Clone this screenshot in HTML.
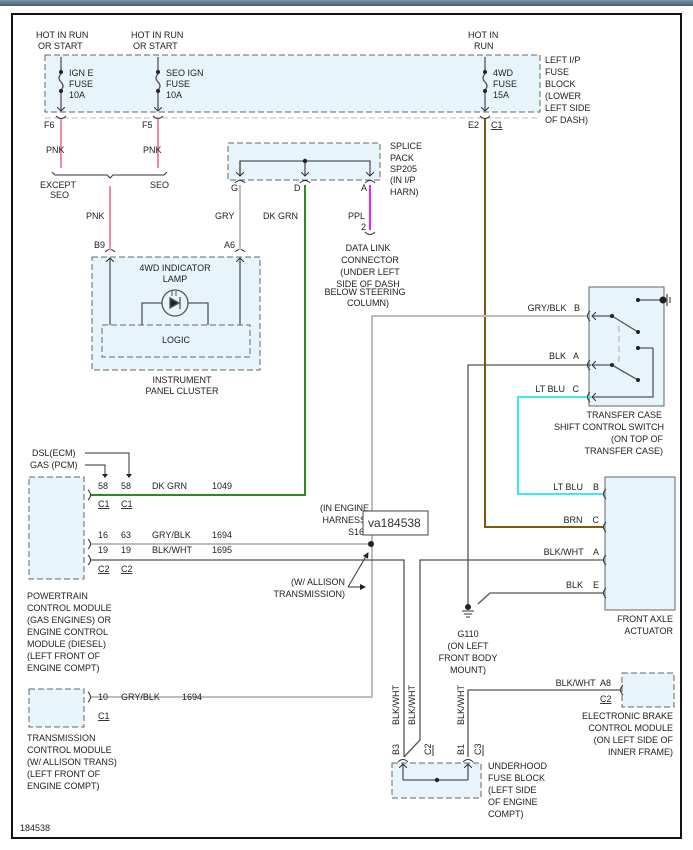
<!DOCTYPE html>
<html><head><meta charset="utf-8"><style>
body{margin:0;background:#fff;}
svg{display:block;font-family:"Liberation Sans",sans-serif;font-size:9px;}
text{fill:#222;white-space:pre;}
</style></head><body>
<svg width="693" height="850" viewBox="0 0 693 850" xmlns="http://www.w3.org/2000/svg">
<defs>
<linearGradient id="tb" x1="0" y1="0" x2="0" y2="1"><stop offset="0" stop-color="#7f93ab"/><stop offset="1" stop-color="#4a5d78"/></linearGradient>
<marker id="ar" markerWidth="8" markerHeight="8" refX="4" refY="4" orient="auto" markerUnits="userSpaceOnUse"><path d="M0,0 L4,4 L0,8" fill="none" stroke="#333" stroke-width="1"/></marker>
<marker id="fa" markerWidth="6" markerHeight="6" refX="5" refY="3" orient="auto" markerUnits="userSpaceOnUse"><path d="M0,0 L6,3 L0,6z" fill="#222"/></marker>
</defs>
<rect x="0" y="0" width="693" height="6" fill="url(#tb)"/>
<rect x="12" y="14" width="669" height="824" fill="#fff" stroke="#111" stroke-width="2"/>

<g fill="#e8f4fc" stroke="#666" stroke-width="1" stroke-dasharray="6,3">
<rect x="45" y="55" width="495" height="57"/>
<rect x="228" y="143" width="152" height="37"/>
<rect x="92" y="257" width="168" height="113"/>
<rect x="102" y="325" width="148" height="32"/>
<rect x="29" y="477" width="55" height="102"/>
<rect x="29" y="689" width="55" height="38"/>
<rect x="622" y="673" width="52" height="34"/>
<rect x="392" y="763" width="89" height="35"/>
</g>
<line x1="45" y1="118" x2="540" y2="118" stroke="#bbb" stroke-dasharray="6,3"/>
<rect x="589" y="287" width="75" height="119" fill="#e8f4fc" stroke="#666"/>
<rect x="605" y="477" width="70" height="133" fill="#e8f4fc" stroke="#666"/>

<g stroke="#555" stroke-width="1.3" fill="none">
<path d="M61,57 V72 M61,92 V111" marker-end="url(#ar)"/>
<path d="M61,74 q-4,4 0,8 q4,4 0,8"/>
<path d="M158,57 V72 M158,92 V111" marker-end="url(#ar)"/>
<path d="M158,74 q-4,4 0,8 q4,4 0,8"/>
<path d="M485,57 V72 M485,92 V111" marker-end="url(#ar)"/>
<path d="M485,74 q-4,4 0,8 q4,4 0,8"/>
</g>
<g fill="#222"><circle cx="61" cy="72" r="2"/><circle cx="61" cy="91" r="2"/><circle cx="158" cy="72" r="2"/><circle cx="158" cy="91" r="2"/><circle cx="485" cy="72" r="2"/><circle cx="485" cy="91" r="2"/></g>
<g stroke="#333" fill="none">
<path d="M56,116 q5,5 10,0 M153,116 q5,5 10,0 M480,116 q5,5 10,0"/>
<path d="M105,252 q5,-5 10,0 M235,252 q5,-5 10,0 M365,232 q5,5 10,0"/>
<path d="M235,183 q5,-5 10,0 M300,183 q5,-5 10,0 M365,183 q5,-5 10,0"/>
<path d="M52,172 l3,3 H107 l3,3 l3,-3 H164 l3,-3"/>
</g>
<text x="36" y="38">HOT IN RUN</text><text x="38" y="49">OR START</text>
<text x="131" y="38">HOT IN RUN</text><text x="133" y="49">OR START</text>
<text x="468" y="38">HOT IN</text><text x="474" y="49">RUN</text>
<text x="69" y="76">IGN E</text><text x="69" y="87">FUSE</text><text x="69" y="98">10A</text>
<text x="166" y="76">SEO IGN</text><text x="166" y="87">FUSE</text><text x="166" y="98">10A</text>
<text x="493" y="76">4WD</text><text x="493" y="87">FUSE</text><text x="493" y="98">15A</text>
<text x="545" y="63">LEFT I/P</text><text x="545" y="75">FUSE</text><text x="545" y="87">BLOCK</text><text x="545" y="99">(LOWER</text><text x="545" y="111">LEFT SIDE</text><text x="545" y="123">OF DASH)</text>
<text x="44" y="128">F6</text><text x="142" y="128">F5</text><text x="468" y="128">E2</text><text x="491" y="128" text-decoration="underline">C1</text>

<g fill="none" stroke-width="2">
<path d="M61,119 V168 M158,119 V168 M110,186 V250" stroke="#f38ba0"/>
<path d="M240,185 V250" stroke="#bdbdbd"/>
<path d="M305,185 V495 H90" stroke="#2a8a2a"/>
<path d="M370,185 V230" stroke="#f020f0"/>
<path d="M485,119 V527 H603" stroke="#7a5a10"/>
<path d="M603,494 H518 V397 H591" stroke="#40e8f0"/>
<path d="M589,316 H372 V697 H90 M372,544 H90" stroke="#bdbdbd"/>
</g>
<g fill="none" stroke="#555" stroke-width="1.3">
<path d="M591,365 H468 V604"/>
<path d="M603,593 H490 L478,604"/>
<path d="M603,560 H420 V740 L404,757"/>
<path d="M90,560 H404 V757"/>
<path d="M620,690 H468 V757"/>
</g>
<text x="46" y="153">PNK</text><text x="143" y="153">PNK</text>
<text x="40" y="188">EXCEPT</text><text x="50" y="198">SEO</text><text x="150" y="188">SEO</text>
<text x="86" y="219">PNK</text><text x="215" y="219">GRY</text><text x="263" y="219">DK GRN</text>
<text x="348" y="219">PPL</text><text x="361" y="230">2</text>
<text x="94" y="248">B9</text><text x="224" y="248">A6</text>

<g stroke="#555" stroke-width="1.3" fill="none">
<path d="M240,176 V161 H370 V176" marker-end="url(#ar)"/>
<path d="M240,161 V176" marker-end="url(#ar)"/>
<path d="M305,161 V176" marker-end="url(#ar)"/>
</g>
<circle cx="305" cy="161" r="2.2" fill="#222"/>
<text x="231" y="191">G</text><text x="294" y="191">D</text><text x="361" y="191">A</text>
<text x="390" y="149">SPLICE</text><text x="390" y="161">PACK</text><text x="390" y="172">SP205</text><text x="390" y="183">(IN I/P</text><text x="390" y="195">HARN)</text>
<g text-anchor="middle"><text x="368" y="251">DATA LINK</text><text x="370" y="263">CONNECTOR</text><text x="370" y="275">(UNDER LEFT</text><text x="368" y="287">SIDE OF DASH</text><text x="365" y="295">BELOW STEERING</text><text x="368" y="306">COLUMN)</text></g>

<g stroke="#555" stroke-width="1.3" fill="none">
<path d="M110,325 V258" marker-end="url(#ar)"/><path d="M240,325 V258" marker-end="url(#ar)"/>
<path d="M142,325 V303 H208 V325"/>
<circle cx="175" cy="303" r="13" fill="#e8f4fc"/>
<path d="M170,298 L179,303 L170,308z" fill="#222"/><line x1="180" y1="297" x2="180" y2="309"/>
<path d="M172,296 V291 M176,296 V291" stroke-width="1"/>
</g>
<g text-anchor="middle"><text x="175" y="271">4WD INDICATOR</text><text x="175" y="282">LAMP</text><text x="176" y="343">LOGIC</text><text x="182" y="383">INSTRUMENT</text><text x="182" y="394">PANEL CLUSTER</text></g>

<g stroke="#555" stroke-width="1.3" fill="none">
<path d="M612,316 H592" marker-end="url(#ar)"/>
<path d="M612,365 H592" marker-end="url(#ar)"/>
<path d="M653,348 H638 M653,348 V397 H592" marker-end="url(#ar)"/>
<path d="M612,316 L638,332 M612,365 L638,380 M638,300 H663"/>
<path d="M619,326 V362" stroke="#bbb" stroke-dasharray="6,4"/>
<path d="M667,294 V306 M670,297 V303"/>
</g>
<g fill="#222"><circle cx="612" cy="316" r="2"/><circle cx="638" cy="332" r="2"/><circle cx="612" cy="365" r="2"/><circle cx="638" cy="380" r="2"/><circle cx="638" cy="300" r="2"/><circle cx="638" cy="348" r="2"/><circle cx="663" cy="300" r="3.5"/></g>
<g stroke="#333" fill="none"><path d="M590,311 q-5,5 0,10 M590,360 q-5,5 0,10 M590,392 q-5,5 0,10"/>
<path d="M606,489 q-5,5 0,10 M606,522 q-5,5 0,10 M606,555 q-5,5 0,10 M606,588 q-5,5 0,10 M623,685 q-5,5 0,10"/>
<path d="M88,490 q5,5 0,10 M88,539 q5,5 0,10 M88,555 q5,5 0,10 M88,692 q5,5 0,10"/>
<path d="M398,762 q5,-5 10,0 M463,762 q5,-5 10,0"/></g>
<g text-anchor="end"><text x="580" y="311">GRY/BLK   B</text><text x="579" y="359">BLK   A</text><text x="579" y="392">LT BLU   C</text>
<text x="662" y="418">TRANSFER CASE</text><text x="664" y="430">SHIFT CONTROL SWITCH</text><text x="663" y="442">(ON TOP OF</text><text x="663" y="454">TRANSFER CASE)</text>
<text x="599" y="490">LT BLU    B</text><text x="599" y="523">BRN    C</text><text x="599" y="555">BLK/WHT    A</text><text x="599" y="588">BLK    E</text>
<text x="673" y="622">FRONT AXLE</text><text x="673" y="634">ACTUATOR</text>
<text x="611" y="686">BLK/WHT  A8</text>
<text x="673" y="719">ELECTRONIC BRAKE</text><text x="673" y="731">CONTROL MODULE</text><text x="673" y="743">(ON LEFT SIDE OF</text><text x="673" y="755">INNER FRAME)</text>
<text x="369" y="511">(IN ENGINE</text><text x="369" y="523">HARNESS)</text><text x="369" y="535">S165</text>
<text x="345" y="585">(W/ ALLISON</text><text x="345" y="597">TRANSMISSION)</text></g>
<text x="600" y="702" text-decoration="underline">C2</text>

<circle cx="468" cy="607" r="3" fill="#222"/>
<g stroke="#333"><line x1="462" y1="611" x2="474" y2="611"/><line x1="464" y1="614" x2="472" y2="614"/><line x1="466" y1="617" x2="470" y2="617"/></g>
<g text-anchor="middle"><text x="468" y="637">G110</text><text x="468" y="649">(ON LEFT</text><text x="468" y="661">FRONT BODY</text><text x="468" y="673">MOUNT)</text></g>

<circle cx="371" cy="544" r="3" fill="#222"/>
<rect x="363" y="511" width="65" height="24" fill="#fff" stroke="#444"/>
<text x="368" y="527" font-size="12" style="fill:#333">va184538</text>
<path d="M348,587 H365" stroke="#333" fill="none" marker-end="url(#fa)"/>
<path d="M348,587 L368,553" stroke="#333" fill="none" marker-end="url(#fa)"/>

<text x="32" y="456">DSL(ECM)</text><text x="30" y="468">GAS (PCM)</text>
<path d="M85,453 H129 V474 M85,465 H105 V474" stroke="#333" fill="none"/>
<path d="M102,474 h6 l-3,4z M126,474 h6 l-3,4z" fill="#222"/>
<text x="98" y="489">58</text><text x="121" y="489">58</text><text x="152" y="489">DK GRN</text><text x="212" y="489">1049</text>
<text x="98" y="507" text-decoration="underline">C1</text><text x="121" y="507" text-decoration="underline">C1</text>
<text x="98" y="538">16</text><text x="121" y="538">63</text><text x="152" y="538">GRY/BLK</text><text x="212" y="538">1694</text>
<text x="98" y="553">19</text><text x="121" y="553">19</text><text x="152" y="553">BLK/WHT</text><text x="212" y="553">1695</text>
<text x="98" y="572" text-decoration="underline">C2</text><text x="121" y="572" text-decoration="underline">C2</text>
<text x="27" y="599">POWERTRAIN</text><text x="27" y="611">CONTROL MODULE</text><text x="27" y="623">(GAS ENGINES) OR</text><text x="27" y="635">ENGINE CONTROL</text><text x="27" y="647">MODULE (DIESEL)</text><text x="27" y="659">(LEFT FRONT OF</text><text x="27" y="671">ENGINE COMPT)</text>
<text x="98" y="700">10</text><text x="121" y="700">GRY/BLK</text><text x="182" y="700">1694</text>
<text x="98" y="719" text-decoration="underline">C1</text>
<text x="27" y="741">TRANSMISSION</text><text x="27" y="753">CONTROL MODULE</text><text x="27" y="765">(W/ ALLISON TRANS)</text><text x="27" y="777">(LEFT FRONT OF</text><text x="27" y="789">ENGINE COMPT)</text>

<g stroke="#555" stroke-width="1.3" fill="none">
<path d="M403,780 V764" marker-end="url(#ar)"/><path d="M468,780 V764" marker-end="url(#ar)"/>
<path d="M403,780 H468"/></g>
<circle cx="437" cy="780" r="2.2" fill="#222"/>
<g transform="rotate(-90)">
<text x="-725" y="399">BLK/WHT</text><text x="-725" y="415">BLK/WHT</text><text x="-725" y="464">BLK/WHT</text>
<text x="-755" y="399">B3</text><text x="-755" y="431">C2</text><text x="-755" y="464">B1</text><text x="-755" y="481">C3</text>
</g>
<path d="M433,745 V756 M483,745 V756" stroke="#333"/>
<text x="488" y="769">UNDERHOOD</text><text x="488" y="781">FUSE BLOCK</text><text x="488" y="793">(LEFT SIDE</text><text x="488" y="805">OF ENGINE</text><text x="488" y="817">COMPT)</text>

<text x="20" y="831">184538</text>
</svg>
</body></html>
